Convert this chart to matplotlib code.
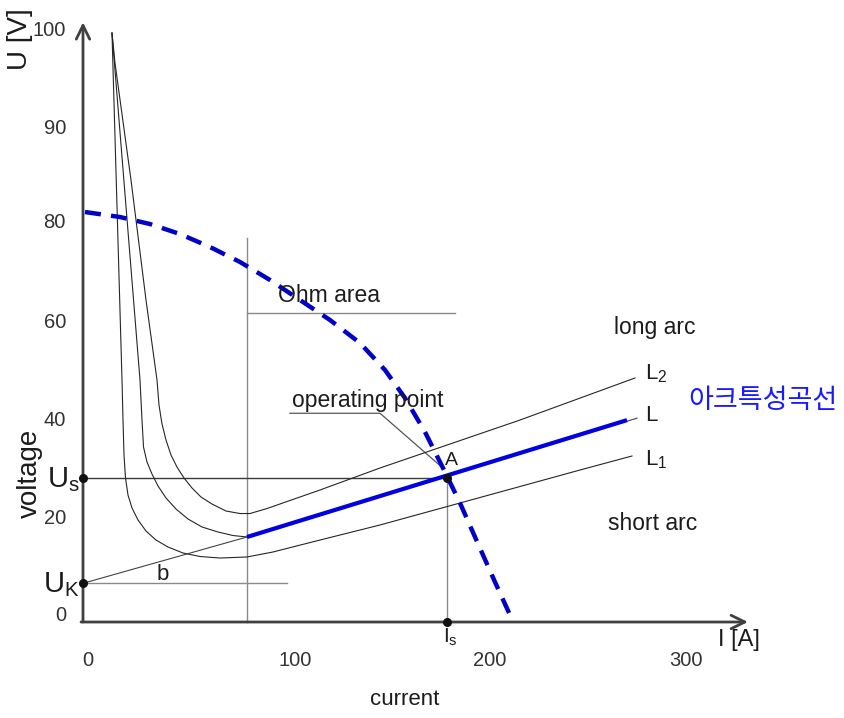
# -*- coding: utf-8 -*-
"""Arc characteristic (U-I) schematic with power-source curve and operating point."""

import matplotlib
matplotlib.use("Agg")
import matplotlib.pyplot as plt
from matplotlib import font_manager

# =========================================================================
# Data (x: current in A, y: voltage axis units)
# =========================================================================

# three arc characteristics (short arc L1, nominal L, long arc L2)
L1_I = [14.5, 19.5, 20.0, 20.5, 21.25, 22.5, 24.5, 27.5, 31.5, 36.5, 42.5, 50.0,
        58.5, 68.5, 82.0, 95.0, 118.5, 148.5, 248.5, 274.5]
L1_U = [120.2, 49.39, 41.22, 34.08, 29.39, 25.92, 23.27, 20.82, 18.57, 16.73,
        15.31, 14.08, 13.37, 13.06, 13.27, 14.29, 16.73, 19.80, 31.02, 33.88]

L_I = [14.5, 28.5, 29.5, 30.25, 32.0, 34.5, 37.5, 41.5, 46.5, 52.5, 59.5, 67.5,
       75.0, 82.0]
L_U = [120.2, 49.39, 41.22, 35.71, 32.65, 30.20, 27.76, 25.31, 23.06, 21.02,
       19.39, 18.37, 17.65, 17.35]

L2_I = [14.5, 16.0, 24.0, 31.5, 37.0, 38.0, 39.5, 41.5, 44.0, 47.0, 50.5, 54.5,
        59.0, 64.5, 71.5, 78.5, 83.5, 92.0, 118.5, 148.5, 218.5, 276.0]
L2_U = [120.2, 114.08, 90.20, 65.71, 49.39, 44.29, 40.41, 37.14, 34.08, 31.63,
        29.39, 27.35, 25.51, 24.08, 22.65, 22.14, 22.14, 23.16, 26.94, 31.43,
        41.22, 49.80]

# straight part of L, starting from U_K
LINE_I = [0.0, 82.0, 277.0]
LINE_U = [7.9, 17.35, 41.6]

# highlighted (blue) linear section
BLUE_I = [82.0, 272.0]
BLUE_U = [17.35, 41.2]

# power source characteristic (dashed)
SRC_I = [1.0, 18.5, 33.5, 48.5, 63.5, 78.5, 93.5, 108.5, 123.5, 138.5, 151.0,
         161.0, 171.0, 181.0, 188.5, 196.0, 206.0, 213.5]
SRC_U = [83.67, 82.65, 81.22, 79.18, 76.53, 73.47, 69.80, 65.71, 61.63, 56.94,
         51.43, 45.71, 38.78, 30.61, 24.29, 17.35, 8.16, 1.43]

U_S = 29.4
U_K = 7.9
I_S = 182.0
OHM_I = 82.0
OHM_TOP = 78.3
OHM_AREA_U = 63.0
OHM_AREA_END = 186.0
B_END = 102.0

Y_TICK_POS = [1.4, 21.2, 41.2, 61.2, 81.6, 100.8, 120.8]
Y_TICK_LAB = ["0", "20", "40", "60", "80", "90", "100"]
X_TICK_POS = [2.5, 106.0, 203.5, 301.5]
X_TICK_LAB = ["0", "100", "200", "300"]

# =========================================================================
# Style
# =========================================================================

XLIM = (-41.5, 380.5)
YLIM = (-19.59, 126.94)
X_ARROW = 332.5
Y_ARROW = 122.4

BLUE = "#0000e0"
DASH_BLUE = "#0000c8"
CURVE = "#262626"
GRAY = "#8a8a8a"
AXIS = "#404040"
TEXT = "#1c1c1c"


def pick_font():
    names = {f.name for f in font_manager.fontManager.ttflist}
    for n in ["Liberation Sans", "Arial", "DejaVu Sans"]:
        if n in names:
            return n
    return "DejaVu Sans"


FONT = pick_font()
plt.rcParams["font.family"] = [FONT, "DejaVu Sans"]
plt.rcParams["mathtext.fontset"] = "custom"
plt.rcParams["mathtext.rm"] = FONT
plt.rcParams["mathtext.it"] = FONT


def main():
    fig = plt.figure(figsize=(8.44, 7.18), dpi=100)
    ax = fig.add_axes([0, 0, 1, 1])
    ax.set_xlim(*XLIM)
    ax.set_ylim(*YLIM)
    ax.axis("off")

    # ---- axes with open arrow heads ----
    arrow = dict(arrowstyle="->,head_length=0.45,head_width=0.22",
                 lw=2.0, color=AXIS, shrinkA=0, shrinkB=0, mutation_scale=22)
    ax.annotate("", xy=(0, Y_ARROW), xytext=(0, 0), arrowprops=arrow)
    ax.annotate("", xy=(X_ARROW, 0), xytext=(-1, 0), arrowprops=arrow)

    # ---- helper lines ----
    ax.plot([OHM_I, OHM_I], [0, OHM_TOP], color=GRAY, lw=1.0)
    ax.plot([OHM_I, OHM_AREA_END], [OHM_AREA_U, OHM_AREA_U], color=GRAY, lw=1.0)
    ax.plot([0, B_END], [U_K, U_K], color=GRAY, lw=1.0)
    ax.plot([0, I_S], [U_S, U_S], color="#3a3a3a", lw=1.0)
    ax.plot([I_S, I_S], [0, U_S], color=GRAY, lw=1.0)
    # operating point label leader
    ax.plot([103.5, 148.5, 180.0], [42.6, 42.6, 31.4], color="#555555", lw=0.9)

    # ---- arc characteristics ----
    for xs, ys in [(L1_I, L1_U), (L_I, L_U), (L2_I, L2_U)]:
        ax.plot(xs, ys, color=CURVE, lw=0.8, solid_joinstyle="round")
    ax.plot(LINE_I, LINE_U, color="#444444", lw=0.8)
    ax.plot(BLUE_I, BLUE_U, color=BLUE, lw=3.0, solid_capstyle="butt")

    # ---- source characteristic ----
    ax.plot(SRC_I, SRC_U, color=DASH_BLUE, lw=3.2,
            linestyle=(0, (3.6, 2.3)), dash_capstyle="butt")

    # ---- points ----
    ax.plot([0, 0, I_S, I_S], [U_S, U_K, U_S, 0], "o", color="#111111",
            markersize=5.5, zorder=5)

    # ---- tick labels ----
    for pos, lab in zip(Y_TICK_POS, Y_TICK_LAB):
        ax.text(-8.5, pos, lab, ha="right", va="center", fontsize=14.5, color="#333333")
    for pos, lab in zip(X_TICK_POS, X_TICK_LAB):
        ax.text(pos, -7.8, lab, ha="center", va="center", fontsize=14.5, color="#333333")

    # ---- axis titles ----
    ax.text(-31.5, 119.0, "U [V]", rotation=90, ha="center", va="center",
            fontsize=20, color=TEXT)
    ax.text(-26.5, 30.4, "voltage", rotation=90, ha="center", va="center",
            fontsize=20, color=TEXT)
    ax.text(161, -15.9, "current", ha="center", va="center", fontsize=16, color=TEXT)
    ax.text(328, -3.7, "I [A]", ha="center", va="center", fontsize=17, color=TEXT)

    # ---- annotations ----
    ax.text(97.5, 66.7, "Ohm area", ha="left", va="center", fontsize=16.5, color=TEXT)
    ax.text(104.5, 45.3, "operating point", ha="left", va="center",
            fontsize=16.5, color=TEXT)
    ax.text(184, 32.9, "A", ha="center", va="center", fontsize=14, color=TEXT)
    ax.text(-1.5, 29.0, r"U$_\mathregular{s}$", ha="right", va="center",
            fontsize=21, color=TEXT)
    ax.text(-1.5, 7.6, r"U$_\mathregular{K}$", ha="right", va="center",
            fontsize=21, color=TEXT)
    ax.text(40, 9.6, "b", ha="center", va="center", fontsize=16, color=TEXT)
    ax.text(183.5, -3.1, r"I$_\mathregular{s}$", ha="center", va="center",
            fontsize=15, color=TEXT)

    ax.text(281, 50.6, r"L$_\mathregular{2}$", ha="left", va="center",
            fontsize=16, color=TEXT)
    ax.text(281, 42.2, "L", ha="left", va="center", fontsize=16, color=TEXT)
    ax.text(281, 33.1, r"L$_\mathregular{1}$", ha="left", va="center",
            fontsize=16, color=TEXT)
    ax.text(286, 60.2, "long arc", ha="center", va="center", fontsize=16.5, color=TEXT)
    ax.text(285, 20.2, "short arc", ha="center", va="center", fontsize=16.5, color=TEXT)

    ax.text(340, 45.3, "아크특성곡선", ha="center", va="center", fontsize=19.5,
            color="#1a1aff", family=["Noto Sans CJK KR", "DejaVu Sans"])

    fig.savefig("out.png", dpi=100)
    plt.close(fig)


if __name__ == "__main__":
    main()
